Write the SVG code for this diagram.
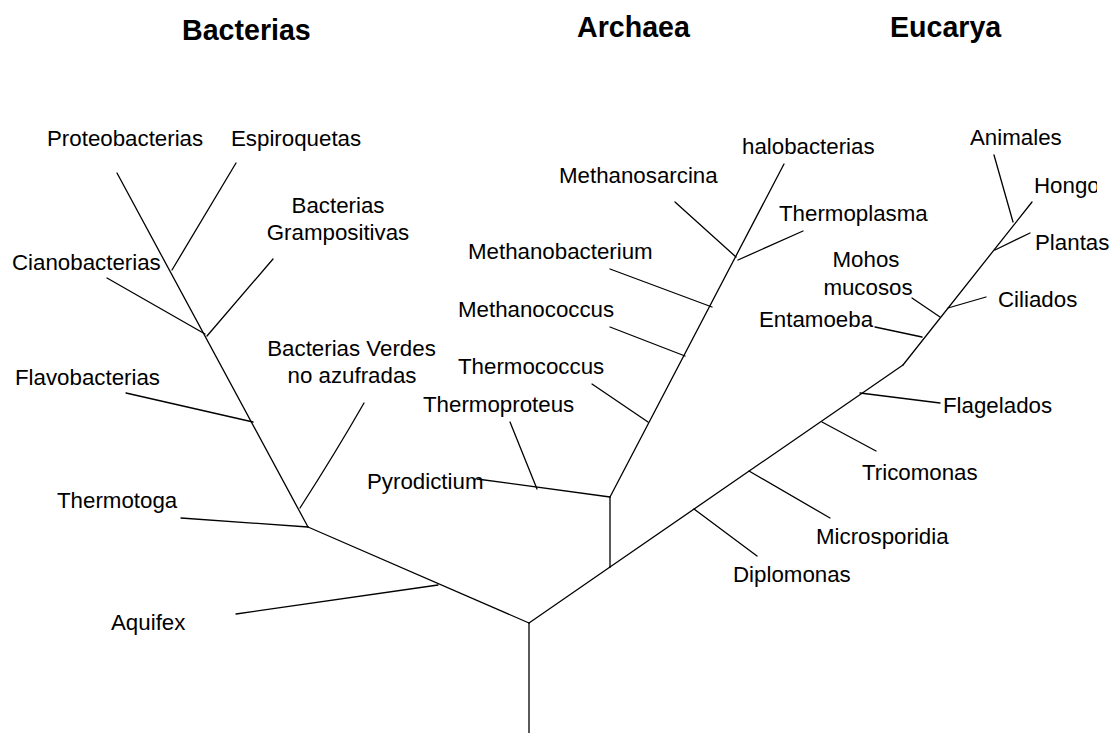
<svg xmlns="http://www.w3.org/2000/svg" width="1110" height="733" viewBox="0 0 1110 733">
<style>
.t{font-family:"Liberation Sans",Arial,sans-serif;font-size:22.3px;fill:#000}
.h{font-family:"Liberation Sans",Arial,sans-serif;font-size:28.6px;font-weight:bold;fill:#000}
.c{text-anchor:middle}
.l line,.l path{stroke:#000;stroke-width:1.3;stroke-linecap:round;fill:none}
</style>
<defs><clipPath id="hc"><rect x="1000" y="160" width="97" height="50"/></clipPath></defs>
<rect width="1110" height="733" fill="#fff"/>
<g id="titles">
<text class="h" x="182" y="40">Bacterias</text>
<text class="h" x="577" y="37">Archaea</text>
<text class="h" x="890" y="37">Eucarya</text>
</g>
<g id="connectors" class="l">
<line x1="529" y1="623" x2="529" y2="733"/>
<line x1="529" y1="623" x2="308" y2="527"/>
<line x1="438" y1="585" x2="236" y2="614"/>
<line x1="308" y1="527" x2="181" y2="518"/>
<line x1="308" y1="527" x2="117" y2="173"/>
<path d="M300 508 Q336 452 364 403"/>
<line x1="253" y1="422" x2="126" y2="393"/>
<line x1="205" y1="334" x2="107" y2="278"/>
<line x1="207" y1="336" x2="273" y2="259"/>
<line x1="172" y1="270" x2="236" y2="163"/>
<line x1="529" y1="623" x2="610" y2="567"/>
<line x1="610" y1="567" x2="610" y2="497"/>
<line x1="610" y1="497" x2="784" y2="164"/>
<line x1="610" y1="497" x2="477" y2="479"/>
<line x1="537" y1="489" x2="510" y2="422"/>
<line x1="648" y1="422" x2="592" y2="384"/>
<line x1="685" y1="356" x2="610" y2="327"/>
<line x1="712" y1="307" x2="610" y2="269"/>
<line x1="736" y1="257" x2="675" y2="202"/>
<line x1="738" y1="260" x2="803" y2="231"/>
<line x1="610" y1="567" x2="903" y2="365"/>
<line x1="903" y1="365" x2="1032" y2="202"/>
<line x1="694" y1="509" x2="757" y2="556"/>
<line x1="749" y1="471" x2="830" y2="518"/>
<line x1="822" y1="422" x2="876" y2="451"/>
<line x1="860" y1="393" x2="940" y2="403"/>
<line x1="922" y1="337" x2="875" y2="327"/>
<line x1="940" y1="317" x2="912" y2="298"/>
<line x1="948" y1="308" x2="986" y2="297"/>
<line x1="995" y1="250" x2="1030" y2="233"/>
<line x1="1013" y1="222" x2="994" y2="155"/>
</g>
<g id="n-proteobacterias"><text class="t" x="47" y="146">Proteobacterias</text></g>
<g id="n-espiroquetas"><text class="t" x="231" y="146">Espiroquetas</text></g>
<g id="n-grampositivas"><text class="t c" x="338" y="213">Bacterias</text><text class="t c" x="338" y="240">Grampositivas</text></g>
<g id="n-cianobacterias"><text class="t" x="12" y="270">Cianobacterias</text></g>
<g id="n-verdes"><text class="t c" x="351.5" y="356">Bacterias Verdes</text><text class="t c" x="352" y="383">no azufradas</text></g>
<g id="n-flavobacterias"><text class="t" x="15" y="385">Flavobacterias</text></g>
<g id="n-thermotoga"><text class="t" x="57" y="508">Thermotoga</text></g>
<g id="n-aquifex"><text class="t" x="111" y="630">Aquifex</text></g>
<g id="n-pyrodictium"><text class="t" x="367" y="489">Pyrodictium</text></g>
<g id="n-thermoproteus"><text class="t" x="423" y="412">Thermoproteus</text></g>
<g id="n-thermococcus"><text class="t" x="458" y="374">Thermococcus</text></g>
<g id="n-methanococcus"><text class="t" x="458" y="317">Methanococcus</text></g>
<g id="n-methanobacterium"><text class="t" x="468" y="259">Methanobacterium</text></g>
<g id="n-methanosarcina"><text class="t" x="559" y="183">Methanosarcina</text></g>
<g id="n-halobacterias"><text class="t" x="742" y="154">halobacterias</text></g>
<g id="n-thermoplasma"><text class="t" x="779" y="221">Thermoplasma</text></g>
<g id="n-animales"><text class="t" x="970" y="145">Animales</text></g>
<g id="n-hongo"><text class="t" x="1034" y="193" clip-path="url(#hc)">Hongo</text></g>
<g id="n-plantas"><text class="t" x="1035" y="250">Plantas</text></g>
<g id="n-mohos"><text class="t c" x="866" y="267">Mohos</text><text class="t c" x="868" y="295">mucosos</text></g>
<g id="n-ciliados"><text class="t" x="998" y="307">Ciliados</text></g>
<g id="n-entamoeba"><text class="t" x="759" y="327">Entamoeba</text></g>
<g id="n-flagelados"><text class="t" x="943" y="413">Flagelados</text></g>
<g id="n-tricomonas"><text class="t" x="862" y="480">Tricomonas</text></g>
<g id="n-microsporidia"><text class="t" x="816" y="544">Microsporidia</text></g>
<g id="n-diplomonas"><text class="t" x="733" y="582">Diplomonas</text></g>
</svg>
